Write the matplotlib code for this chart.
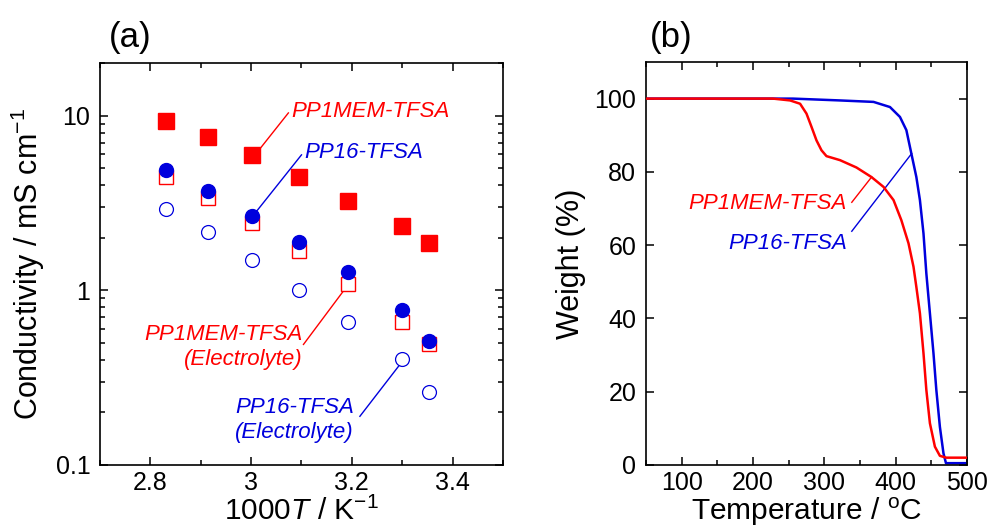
import matplotlib
matplotlib.use('Agg')
import matplotlib.pyplot as plt
from matplotlib.ticker import MultipleLocator, LogLocator, NullFormatter, FixedLocator, FixedFormatter

plt.rcParams['font.family'] = ['Liberation Sans', 'DejaVu Sans']
plt.rcParams['mathtext.fontset'] = 'custom'
plt.rcParams['mathtext.rm'] = 'Liberation Sans'
plt.rcParams['mathtext.it'] = 'Liberation Sans:italic'

RED = '#ff0000'
BLUE = '#0000dd'

# (a) conductivity vs 1000/T, T = 80, 70, 60, 50, 40, 30, 25 degC
inv_t = [2.832, 2.914, 3.002, 3.095, 3.193, 3.299, 3.354]
pp1mem_neat = [9.36, 7.59, 5.96, 4.48, 3.24, 2.32, 1.86]
pp16_neat = [4.89, 3.71, 2.68, 1.88, 1.27, 0.772, 0.511]
pp1mem_elec = [4.48, 3.37, 2.43, 1.68, 1.08, 0.659, 0.496]
pp16_elec = [2.93, 2.16, 1.50, 1.00, 0.659, 0.402, 0.261]

# (b) TGA traces
t_pp16 = [50, 256, 322, 369, 392, 406, 415, 422, 429, 434, 439, 443, 448, 453,
          457, 462, 467, 470.5, 500]
w_pp16 = [100, 100, 99.5, 99.1, 97.7, 95.0, 91.4, 85.0, 78.6, 72.3, 63.2, 52.3,
          41.4, 30.5, 20.5, 10.4, 3.2, 0.5, 0.5]
t_pp1mem = [50, 228, 252, 266, 275, 282, 289, 296, 303, 322, 345, 366, 383, 397,
            408, 418, 425, 429, 434, 439, 443, 448, 455, 462, 471, 500]
w_pp1mem = [100, 100, 99.5, 98.6, 95.9, 92.3, 88.6, 85.9, 84.3, 83.2, 81.2, 78.6,
            75.9, 72.3, 66.8, 60.5, 54.1, 48.6, 41.4, 30.5, 20.5, 11.4, 5.0, 2.5,
            2.0, 2.0]

fig = plt.figure(figsize=(9.92, 5.31), dpi=100)
ax1 = fig.add_axes([0.1008, 0.1243, 0.4062, 0.757])
ax2 = fig.add_axes([0.6512, 0.1243, 0.3236, 0.759])

for ax in (ax1, ax2):
    for s in ax.spines.values():
        s.set_linewidth(1.2)
    ax.tick_params(which='both', direction='in', top=True, right=True,
                   labelsize=18, width=1.1, pad=7)
    ax.tick_params(axis='x', which='both', pad=4.5)
    ax.tick_params(which='major', length=6)
    ax.tick_params(which='minor', length=3.5)

# --- panel (a)
ax1.plot(inv_t, pp1mem_neat, 's', ms=11, color=RED, mec=RED, zorder=3)
ax1.plot(inv_t, pp1mem_elec, 's', ms=10.5, mfc='white', mec=RED, mew=1.0, zorder=3)
ax1.plot(inv_t, pp16_neat, 'o', ms=10, color=BLUE, mec=BLUE, zorder=4)
ax1.plot(inv_t, pp16_elec, 'o', ms=10, mfc='white', mec=BLUE, mew=0.9, zorder=3)

ax1.set_yscale('log')
ax1.set_xlim(2.7, 3.5)
ax1.set_ylim(0.1, 20)
ax1.xaxis.set_major_locator(FixedLocator([2.8, 3.0, 3.2, 3.4]))
ax1.xaxis.set_major_formatter(FixedFormatter(['2.8', '3', '3.2', '3.4']))
ax1.xaxis.set_minor_locator(MultipleLocator(0.1))
ax1.yaxis.set_major_locator(FixedLocator([0.1, 1, 10]))
ax1.yaxis.set_major_formatter(FixedFormatter(['0.1', '1', '10']))
ax1.yaxis.set_minor_locator(LogLocator(base=10, subs=range(2, 10)))
ax1.yaxis.set_minor_formatter(NullFormatter())
ax1.set_xlabel(r'1000$T$ / K$^{\mathrm{-1}}$', fontsize=21.5, labelpad=1)
ax1.set_ylabel(r'Conductivity / mS cm$^{\mathrm{-1}}$', fontsize=22, labelpad=6)

lbl = dict(fontsize=16, style='italic')
ax1.text(3.08, 10.5, 'PP1MEM-TFSA', color=RED, ha='left', va='center', **lbl)
ax1.plot([3.074, inv_t[2] + 0.014], [10.36, pp1mem_neat[2] * 1.07], color=RED, lw=1)
ax1.text(3.106, 6.19, 'PP16-TFSA', color=BLUE, ha='left', va='center', **lbl)
ax1.plot([3.1, inv_t[2] + 0.008], [5.96, pp16_neat[2] * 1.05], color=BLUE, lw=1)
ax1.text(3.102, 0.473, 'PP1MEM-TFSA\n(Electrolyte)', color=RED, ha='right',
         va='center', multialignment='right', linespacing=1.25, **lbl)
ax1.plot([3.104, inv_t[4] - 0.007], [0.49, pp1mem_elec[4] * 0.94], color=RED, lw=1)
ax1.text(3.204, 0.18, 'PP16-TFSA\n(Electrolyte)', color=BLUE, ha='right',
         va='center', multialignment='right', linespacing=1.25, **lbl)
ax1.plot([3.216, inv_t[5] - 0.003], [0.19, pp16_elec[5] * 0.94], color=BLUE, lw=1)

fig.text(0.131, 0.93, '(a)', fontsize=25, ha='center', va='center')

# --- panel (b)
ax2.plot(t_pp1mem, w_pp1mem, color=RED, lw=1.8, zorder=3)
ax2.plot(t_pp16, w_pp16, color=BLUE, lw=1.8, zorder=2)
ax2.set_xlim(50, 500)
ax2.set_ylim(0, 110)
ax2.xaxis.set_major_locator(FixedLocator([100, 200, 300, 400, 500]))
ax2.xaxis.set_minor_locator(MultipleLocator(50))
ax2.yaxis.set_major_locator(MultipleLocator(20))
ax2.set_xlabel(r'Temperature / $^{\mathrm{o}}$C', fontsize=21.5, labelpad=0.5)
ax2.set_ylabel('Weight (%)', fontsize=22, labelpad=6)

ax2.text(331.7, 71.4, 'PP1MEM-TFSA', color=RED, ha='right', va='center', **lbl)
ax2.plot([338.5, 366.3], [71.7, 78.6], color=RED, lw=1)
ax2.text(331.7, 60.5, 'PP16-TFSA', color=BLUE, ha='right', va='center', **lbl)
ax2.plot([338.5, 422.4], [63.8, 85.0], color=BLUE, lw=1)

fig.text(0.677, 0.93, '(b)', fontsize=25, ha='center', va='center')

fig.savefig('out.png', dpi=100)
